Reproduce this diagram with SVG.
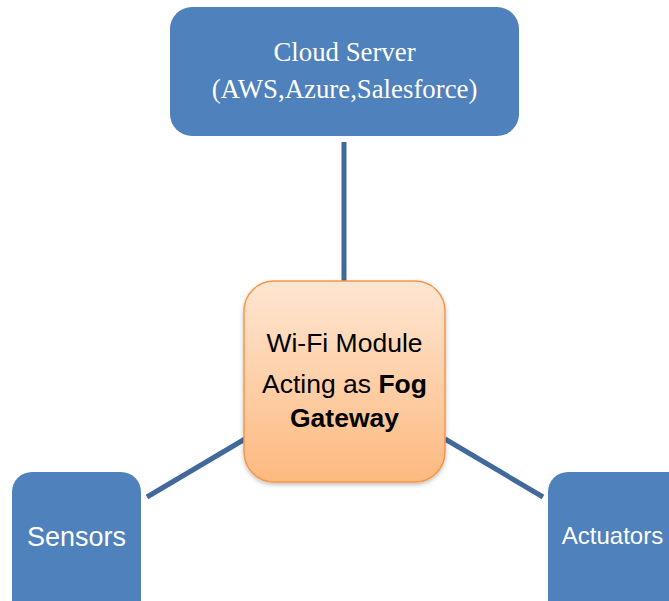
<svg xmlns="http://www.w3.org/2000/svg" width="669" height="601" viewBox="0 0 669 601">
  <defs>
    <linearGradient id="fogFill" x1="0" y1="0" x2="0" y2="1">
      <stop offset="0" stop-color="#fee6d2"/>
      <stop offset="1" stop-color="#fdb97f"/>
    </linearGradient>
    <filter id="shadow" x="-10%" y="-10%" width="120%" height="120%">
      <feDropShadow dx="0" dy="2" stdDeviation="2" flood-color="#000" flood-opacity="0.25"/>
    </filter>
  </defs>
  <style>
    .blue { fill: #4f81bd; }
    .link { stroke: #41699b; stroke-width: 5; fill: none; }
    .sans { font-family: "Liberation Sans", Arial, sans-serif; }
    .serif { font-family: "Liberation Serif", "Times New Roman", serif; }
  </style>
  <rect width="669" height="601" fill="#ffffff"/>

  <g id="connectors">
    <line class="link" x1="344" y1="142" x2="344" y2="282"/>
    <line class="link" x1="147" y1="497" x2="245" y2="439"/>
    <line class="link" x1="445" y1="439" x2="543" y2="497"/>
  </g>

  <g id="cloud-server">
    <rect class="blue" x="170" y="7" width="349" height="129" rx="22" ry="22"/>
    <text class="serif" x="344.5" y="61" font-size="26.8" fill="#ffffff" text-anchor="middle">Cloud Server</text>
    <text class="serif" x="344.5" y="98" font-size="26.8" fill="#ffffff" text-anchor="middle">(AWS,Azure,Salesforce)</text>
  </g>

  <g id="fog-gateway">
    <rect x="244" y="281" width="201" height="201" rx="30" ry="30" fill="url(#fogFill)" stroke="#f79646" stroke-width="1.5" filter="url(#shadow)"/>
    <text class="sans" x="344.5" y="352" font-size="26.5" fill="#000000" text-anchor="middle">Wi-Fi Module</text>
    <text class="sans" x="344.5" y="393" font-size="26.5" fill="#000000" text-anchor="middle">Acting as <tspan font-weight="bold">Fog</tspan></text>
    <text class="sans" x="344.5" y="427" font-size="26.5" fill="#000000" text-anchor="middle" font-weight="bold">Gateway</text>
  </g>

  <g id="sensors">
    <rect class="blue" x="12" y="472" width="129" height="150" rx="20" ry="20"/>
    <text class="sans" x="76.5" y="546" font-size="27" fill="#ffffff" text-anchor="middle">Sensors</text>
  </g>

  <g id="actuators">
    <rect class="blue" x="548" y="472" width="140" height="150" rx="20" ry="20"/>
    <text class="sans" x="612.5" y="544" font-size="24" fill="#ffffff" text-anchor="middle">Actuators</text>
  </g>
</svg>
